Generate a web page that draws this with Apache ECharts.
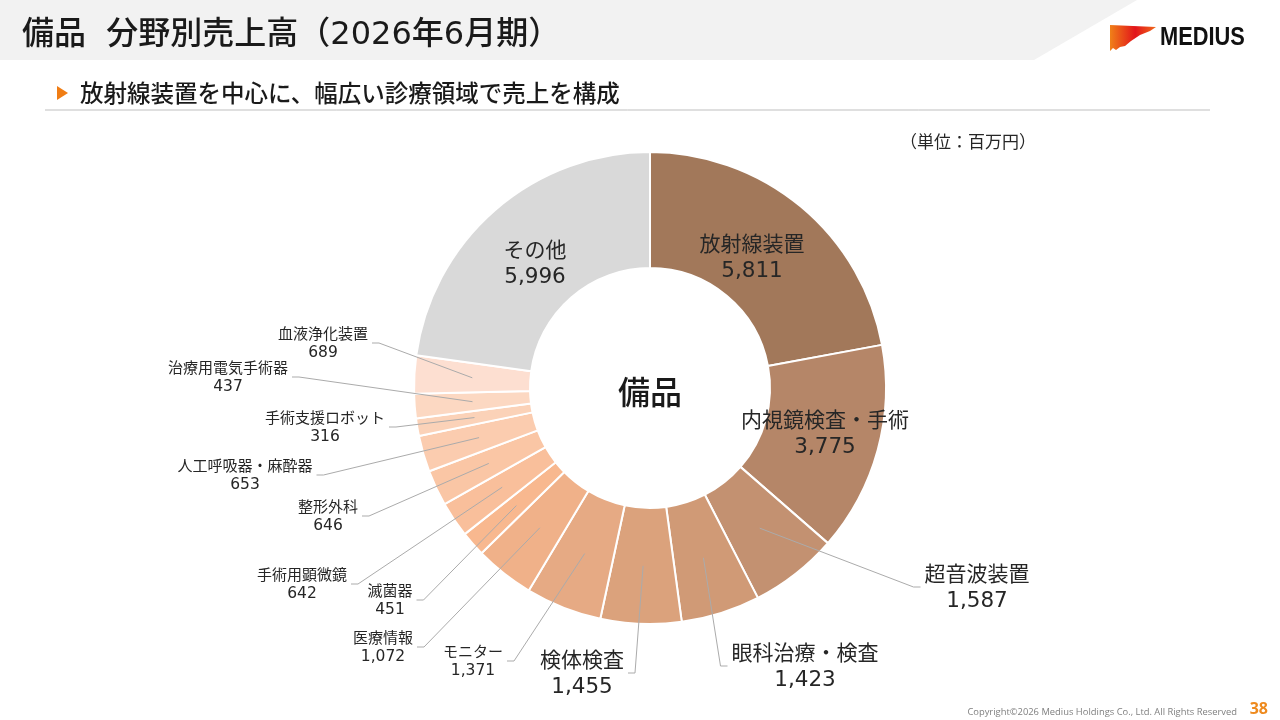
<!DOCTYPE html>
<html>
<head>
<meta charset="utf-8">
<title>備品 分野別売上高</title>
<style>
html, body { margin: 0; padding: 0; background: #fff; }
#chart { width: 1280px; height: 720px; }
</style>
<script src="https://cdn.jsdelivr.net/npm/echarts@6/dist/echarts.min.js"></script>
</head>
<body>
<div id="chart"></div>
<script>
// 分野別売上高（百万円）、12時から時計回り
var categories = ['放射線装置', '内視鏡検査・手術', '超音波装置', '眼科治療・検査', '検体検査',
    'モニター', '医療情報', '滅菌器', '手術用顕微鏡', '整形外科', '人工呼吸器・麻酔器',
    '手術支援ロボット', '治療用電気手術器', '血液浄化装置', 'その他'];
var salesValues = [5811, 3775, 1587, 1423, 1455, 1371, 1072, 451, 642, 646, 653, 316, 437, 689, 5996];

var sliceColors = ['#A2785A', '#B58668', '#C39171', '#D09A76', '#DBA27C', '#E6AA84',
    '#F0B189', '#F8B88F', '#F9BF9B', '#FAC6A5', '#FBCCAF', '#FBD2B8', '#FCD8C2', '#FDDFD1', '#D9D9D9'];

// ラベル配置
var insideLabels = ['放射線装置', '内視鏡検査・手術', 'その他'];
var bigLabels = ['超音波装置', '眼科治療・検査', '検体検査'];
var labelPositions = {
    '放射線装置': [752, 257],
    '内視鏡検査・手術': [825, 433],
    'その他': [535, 263],
    '超音波装置': [977, 587],
    '眼科治療・検査': [805, 666],
    '検体検査': [582, 673],
    'モニター': [473, 661],
    '医療情報': [383, 647],
    '滅菌器': [390, 600],
    '手術用顕微鏡': [302, 584],
    '整形外科': [328, 516],
    '人工呼吸器・麻酔器': [245, 475],
    '手術支援ロボット': [325, 427],
    '治療用電気手術器': [228, 377],
    '血液浄化装置': [323, 343]
};

var FONT = '"Noto Sans CJK JP", "Noto Sans", sans-serif';
var NUM_FONT = '"DejaVu Sans", "Noto Sans", sans-serif';
var TEXT_COLOR = '#262626';
var CENTER = [650, 388];

function labelText(p) {
    return '{n|' + p.name + '}\n{v|' + p.value.toLocaleString('en-US') + '}';
}

function labelRich(big) {
    return {
        n: {fontFamily: FONT, fontSize: big ? 21 : 15, lineHeight: big ? 28 : 20, color: TEXT_COLOR},
        v: {fontFamily: NUM_FONT, fontSize: big ? 21.5 : 15.5, lineHeight: big ? 28 : 20, color: TEXT_COLOR}
    };
}

function placeInside(params) {
    var pos = labelPositions[categories[params.dataIndex]];
    if (!pos) {
        return {};
    }
    return {x: pos[0], y: pos[1], align: 'center', verticalAlign: 'middle'};
}

function placeOutside(params) {
    var pos = labelPositions[categories[params.dataIndex]];
    if (!pos || !params.labelLinePoints) {
        return {};
    }
    var start = params.labelLinePoints[0];
    var half = params.labelRect.width / 2;
    var side = pos[0] < start[0] ? 1 : -1;
    var edgeX = pos[0] + side * (half + 4);
    return {
        x: pos[0],
        y: pos[1],
        align: 'center',
        verticalAlign: 'middle',
        labelLinePoints: [start, [edgeX + side * 7, pos[1]], [edgeX, pos[1]]]
    };
}

var ringData = [];
var guideData = [];
for (var i = 0; i < categories.length; i++) {
    var name = categories[i];
    var inside = insideLabels.indexOf(name) >= 0;
    var big = bigLabels.indexOf(name) >= 0;
    ringData.push({
        name: name,
        value: salesValues[i],
        itemStyle: {color: sliceColors[i]},
        label: {show: inside}
    });
    guideData.push({
        name: name,
        value: salesValues[i],
        label: {show: !inside, rich: labelRich(big)},
        labelLine: {show: !inside}
    });
}

var chart = echarts.init(document.getElementById('chart'));

var option = {
    animation: false,
    backgroundColor: '#fff',
    textStyle: {fontFamily: FONT},
    graphic: [
        {
            type: 'polygon',
            shape: {points: [[0, 0], [1137, 0], [1034, 60], [0, 60]]},
            style: {fill: '#F2F2F2'}
        },
        {
            type: 'text', x: 22, y: 36,
            style: {
                text: '備品  分野別売上高（2026年6月期）',
                font: '500 32px "DejaVu Sans", ' + FONT, fill: '#1a1a1a', verticalAlign: 'middle'
            }
        },
        {
            type: 'polygon',
            shape: {points: [[1110, 25], [1156, 27], [1150, 31], [1140, 35], [1131, 41],
                [1125, 46], [1120, 47], [1116, 50], [1113, 48], [1110, 51]]},
            style: {
                fill: new echarts.graphic.LinearGradient(0, 0, 1, 0, [
                    {offset: 0, color: '#F08018'},
                    {offset: 0.55, color: '#E2141A'},
                    {offset: 1, color: '#F06A1A'}
                ])
            }
        },
        {
            type: 'text', x: 1160, y: 38, scaleX: 0.84,
            style: {
                text: 'MEDIUS',
                font: 'bold 26px "Liberation Sans", "DejaVu Sans", sans-serif',
                fill: '#111', verticalAlign: 'middle'
            }
        },
        {
            type: 'polygon',
            shape: {points: [[57, 86], [57, 100], [68, 93]]},
            style: {fill: '#F07D14'}
        },
        {
            type: 'text', x: 80, y: 93,
            style: {
                text: '放射線装置を中心に、幅広い診療領域で売上を構成',
                font: '500 23.5px ' + FONT, fill: '#1a1a1a', verticalAlign: 'middle'
            }
        },
        {
            type: 'line',
            shape: {x1: 45, y1: 110, x2: 1210, y2: 110},
            style: {stroke: '#BFBFBF', lineWidth: 1}
        },
        {
            type: 'text', x: 1036, y: 142,
            style: {
                text: '（単位：百万円）',
                font: '17px ' + FONT, fill: TEXT_COLOR, align: 'right', verticalAlign: 'middle'
            }
        },
        {
            type: 'text', x: CENTER[0], y: CENTER[1] + 4, z: 10,
            style: {
                text: '備品',
                font: '500 32px ' + FONT, fill: '#1a1a1a', align: 'center', verticalAlign: 'middle'
            }
        },
        {
            type: 'text', x: 1237, y: 712,
            style: {
                text: 'Copyright©2026 Medius Holdings Co., Ltd. All Rights Reserved',
                font: '9.4px "Open Sans", "Noto Sans", sans-serif', fill: '#808080',
                align: 'right', verticalAlign: 'middle'
            }
        },
        {
            type: 'text', x: 1268, y: 709,
            style: {
                text: '38',
                font: 'bold 16px "Open Sans", "Noto Sans", sans-serif', fill: '#EE8A1E',
                align: 'right', verticalAlign: 'middle'
            }
        }
    ],
    series: [
        {
            name: '備品',
            type: 'pie',
            z: 2,
            center: CENTER,
            radius: [120, 236],
            startAngle: 90,
            clockwise: true,
            avoidLabelOverlap: false,
            emphasis: {disabled: true},
            itemStyle: {borderColor: '#fff', borderWidth: 2},
            label: {
                position: 'inside',
                formatter: labelText,
                rich: labelRich(true)
            },
            labelLine: {show: false},
            labelLayout: placeInside,
            data: ringData
        },
        {
            // 引出線用の透明な内側リング
            name: 'guide',
            type: 'pie',
            z: 5,
            center: CENTER,
            radius: [0, 178],
            startAngle: 90,
            clockwise: true,
            silent: true,
            avoidLabelOverlap: false,
            emphasis: {disabled: true},
            itemStyle: {color: 'rgba(0,0,0,0)', borderWidth: 0},
            label: {
                position: 'outside',
                formatter: labelText
            },
            labelLine: {
                length: 10,
                length2: 10,
                lineStyle: {color: '#ABABAB', width: 1}
            },
            labelLayout: placeOutside,
            data: guideData
        }
    ]
};

chart.setOption(option);
</script>
</body>
</html>
